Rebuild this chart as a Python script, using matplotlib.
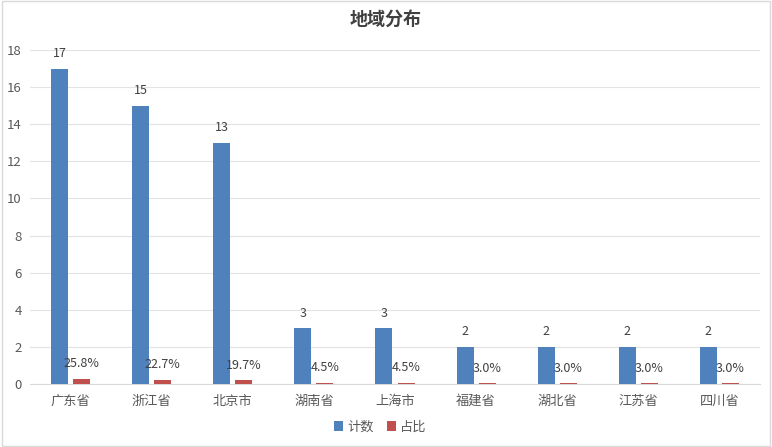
import numpy as np
import matplotlib
matplotlib.use("Agg")
import matplotlib.pyplot as plt

plt.rcParams['font.family'] = ['Noto Sans CJK SC', 'DejaVu Sans']

regions = ["广东省", "浙江省", "北京市", "湖南省", "上海市", "福建省", "湖北省", "江苏省", "四川省"]
counts = [17, 15, 13, 3, 3, 2, 2, 2, 2]
shares = [0.258, 0.227, 0.197, 0.045, 0.045, 0.030, 0.030, 0.030, 0.030]

blue = "#4F81BD"
red = "#C0504D"
text_c = "#595959"

fig = plt.figure(figsize=(7.72, 4.47), dpi=100)
ax = fig.add_axes([30 / 772, 1 - 384 / 447, 730 / 772, 334 / 447])

x = np.arange(len(regions))
w = 0.21
off = 0.136
ax.bar(x - off, counts, w, color=blue, label="计数", zorder=3)
ax.bar(x + off, shares, w, color=red, label="占比", zorder=3)

for xi, c, s in zip(x, counts, shares):
    ax.annotate(str(c), (xi - off, c), xytext=(0, 11), textcoords="offset points",
                ha="center", va="center", fontsize=9, color="#404040")
    ax.annotate(f"{s * 100:.1f}%", (xi + off, s), xytext=(0, 11), textcoords="offset points",
                ha="center", va="center", fontsize=9, color="#404040")

ax.set_xlim(-0.5, len(regions) - 0.5)
ax.set_ylim(0, 18)
ax.set_yticks(np.arange(0, 19, 2))
ax.set_xticks(x)
ax.set_xticklabels(regions)
ax.tick_params(axis="both", length=0, labelsize=9.5, colors=text_c)
ax.tick_params(axis="x", pad=8)
ax.tick_params(axis="y", pad=6)
ax.grid(axis="y", color="#E3E3E3", linewidth=0.8, zorder=0)
for side in ["top", "right", "left"]:
    ax.spines[side].set_visible(False)
ax.spines["bottom"].set_color("#D9D9D9")

fig.text(0.5, 1 - 19 / 447, "地域分布", ha="center", va="center",
         fontsize=13, fontweight="bold", color="#404040")

fig.legend(loc="center", bbox_to_anchor=(380 / 772, 1 - 427 / 447), ncol=2,
           frameon=False, fontsize=9.5, handlelength=0.7, handleheight=0.7,
           columnspacing=1.0, handletextpad=0.3, labelcolor=text_c)

fig.patches.append(plt.Rectangle((0.002, 0.003), 0.996, 0.994, transform=fig.transFigure,
                                 fill=False, edgecolor="#D9D9D9", linewidth=1))

fig.savefig("out.png", dpi=100)
